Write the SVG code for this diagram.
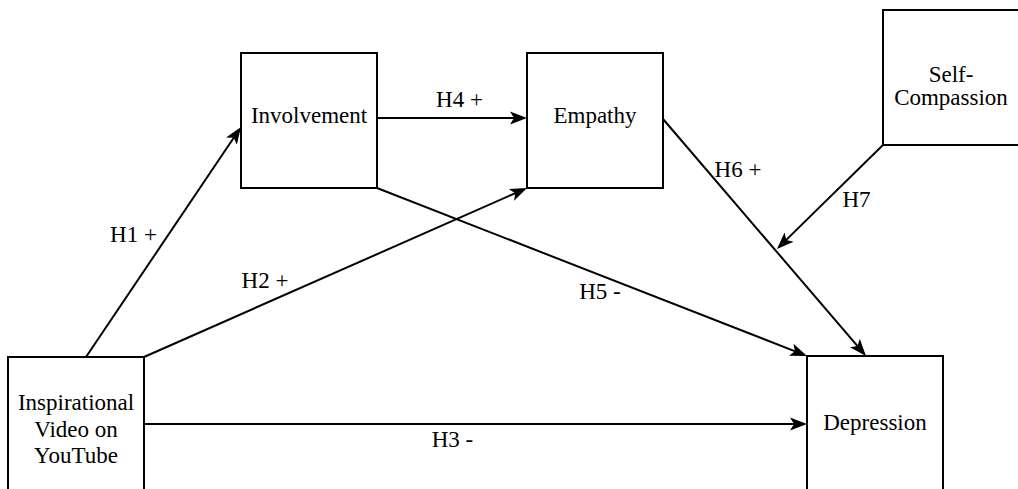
<svg xmlns="http://www.w3.org/2000/svg" width="1018" height="489" viewBox="0 0 1018 489">
<style>
.box{fill:#fff;stroke:#000;stroke-width:2}
.lbl{font-family:"Liberation Serif","Times New Roman",serif;font-size:23px;fill:#000;text-anchor:middle}
.edge{fill:none;stroke:#000;stroke-width:2}
</style>
<defs>
<marker id="arr" markerUnits="userSpaceOnUse" markerWidth="20" markerHeight="16" viewBox="0 0 20 16" refX="14" refY="8" orient="auto">
<path d="M0,1.5 L17,8 L0,14.5 L4,8 Z" fill="#000"/>
</marker>
</defs>
<rect width="1018" height="489" fill="#fff"/>
<g id="connectors">
<line class="edge" x1="86" y1="357" x2="239.3" y2="129.5" marker-end="url(#arr)"/>
<line class="edge" x1="144" y1="357" x2="524.3" y2="189.2" marker-end="url(#arr)"/>
<line class="edge" x1="144" y1="424" x2="804" y2="424" marker-end="url(#arr)"/>
<line class="edge" x1="377" y1="118" x2="524" y2="118" marker-end="url(#arr)"/>
<line class="edge" x1="377" y1="188" x2="804.2" y2="354.9" marker-end="url(#arr)"/>
<line class="edge" x1="663" y1="119" x2="864" y2="353.7" marker-end="url(#arr)"/>
<line class="edge" x1="883" y1="145" x2="779.1" y2="246.9" marker-end="url(#arr)"/>
<text class="lbl" x="133.5" y="242">H1 +</text>
<text class="lbl" x="265" y="288">H2 +</text>
<text class="lbl" x="452.5" y="447">H3 -</text>
<text class="lbl" x="459.5" y="107">H4 +</text>
<text class="lbl" x="600" y="299">H5 -</text>
<text class="lbl" x="738" y="177">H6 +</text>
<text class="lbl" x="856.5" y="207">H7</text>
</g>
<g id="inspirational">
<rect class="box" x="8" y="357" width="136" height="140"/>
<text class="lbl" x="76" y="410">Inspirational</text>
<text class="lbl" x="76" y="437">Video on</text>
<text class="lbl" x="76" y="463">YouTube</text>
</g>
<g id="involvement">
<rect class="box" x="241" y="53" width="136" height="135"/>
<text class="lbl" x="309" y="123">Involvement</text>
</g>
<g id="empathy">
<rect class="box" x="527" y="53" width="136" height="135"/>
<text class="lbl" x="595" y="123">Empathy</text>
</g>
<g id="self-compassion">
<rect class="box" x="883" y="10" width="136" height="135"/>
<text class="lbl" x="951" y="82">Self-</text>
<text class="lbl" x="951" y="105">Compassion</text>
</g>
<g id="depression">
<rect class="box" x="807" y="356" width="136" height="140"/>
<text class="lbl" x="875" y="430">Depression</text>
</g>
</svg>
